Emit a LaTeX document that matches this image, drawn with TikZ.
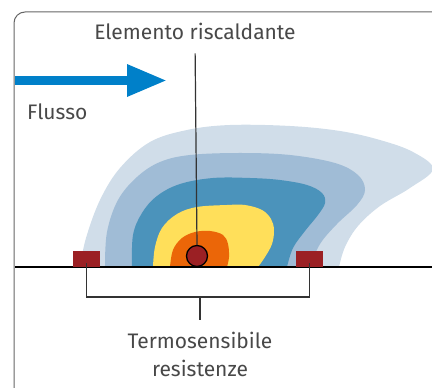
\documentclass[tikz,border=0pt]{standalone}
\usepackage{fontspec}
\setmainfont{Fira Sans}
\usetikzlibrary{arrows.meta}

\definecolor{heatred}{RGB}{155,32,36}
\definecolor{flowblue}{RGB}{0,128,201}
\definecolor{coolA}{RGB}{208,221,233}
\definecolor{coolB}{RGB}{160,188,214}
\definecolor{coolC}{RGB}{75,147,187}
\definecolor{warmA}{RGB}{255,223,90}
\definecolor{warmB}{RGB}{235,102,8}
\definecolor{labelgray}{RGB}{72,72,72}

\begin{document}
\begin{tikzpicture}[
        x = 1pt, y = -1pt,
        font = \fontsize{21}{28}\selectfont,
        every node/.style = {text = labelgray, inner sep = 0pt},
        zone/.style = {fill = #1, draw = none},
        sensor/.style = {fill = heatred, minimum width = 27pt, minimum height = 16pt},
        heater/.style = {circle, draw = black, line width = 1.3pt, fill = heatred, minimum size = 21pt},
        leader/.style = {draw = black!80, line width = 1.2pt},
        flow/.style = {draw = flowblue, line width = 9pt, -{Triangle[length = 40pt, width = 30pt]}},
        frame/.style = {draw = black!60, line width = 1pt, rounded corners = 11pt}
    ]
      \useasboundingbox (0,0) rectangle (432,390);
      \draw[frame] (14,388) -- (14,12) -- (440,12);

      % temperature field around the heater
      \path[zone = coolA] plot[smooth, tension = 0.6] coordinates {
          (80,267) (86,238) (100,200) (120,168) (150,142) (187,130) (230,125)
          (290,126) (340,131) (380,140) (413,152) (433,169) (410,188) (380,206)
          (358,226) (345,247) (339,267)} -- cycle;
      \path[zone = coolB] plot[smooth, tension = 0.6] coordinates {
          (105,267) (107,232) (118,200) (137,177) (160,162) (190,155) (240,153)
          (290,155) (335,163) (358,175) (365,190) (357,205) (337,224)
          (320,244) (310,267)} -- cycle;
      \path[zone = coolC] plot[smooth, tension = 0.6] coordinates {
          (132,267) (133,235) (142,213) (157,196) (180,184) (213,178) (250,178)
          (280,180) (307,185) (322,193) (325,203) (318,215) (305,231) (293,248)
          (287,267)} -- cycle;
      \path[zone = warmA] plot[smooth, tension = 0.6] coordinates {
          (153,267) (155,247) (162,228) (177,214) (197,207) (227,205) (245,205)
          (262,210) (271,219) (274,230) (272,244) (265,257) (258,267)} -- cycle;
      \path[zone = warmB] plot[smooth, tension = 0.6] coordinates {
          (170,267) (173,250) (182,238) (195,232) (210,231) (223,235) (228,244)
          (229,257) (227,267)} -- cycle;

      \coordinate (gndA) at (15,267);
      \coordinate (gndB) at (432,267);
      \draw[line width = 2pt] (gndA) -- (gndB);

      \node[sensor] (sensL) at (86.5,259) {};
      \node[sensor] (sensR) at (309.5,259) {};
      \node[heater] (heat) at (197,256) {};

      \coordinate (flowA) at (15,80.5);
      \coordinate (flowB) at (167,80.5);
      \draw[flow] (flowA) -- (flowB);

      \node[anchor = base] (lblHeat) at (195,40) {Elemento riscaldante};
      \node[anchor = base west] (lblFlow) at (27,120) {Flusso};
      \node[anchor = north, align = center] (lblSens) at (200,332) {Termosensibile\\resistenze};

      \coordinate (brk) at (200,297);
      \draw[leader, shorten <= 13pt] (lblHeat.south) -- (heat.north);
      \draw[leader, shorten <= 4pt] (sensL.center) |- (brk) -| ([yshift = -4pt]sensR.center);
      \draw[leader, shorten >= 12pt] (brk) -- (lblSens.north);
    \end{tikzpicture}
\end{document}
